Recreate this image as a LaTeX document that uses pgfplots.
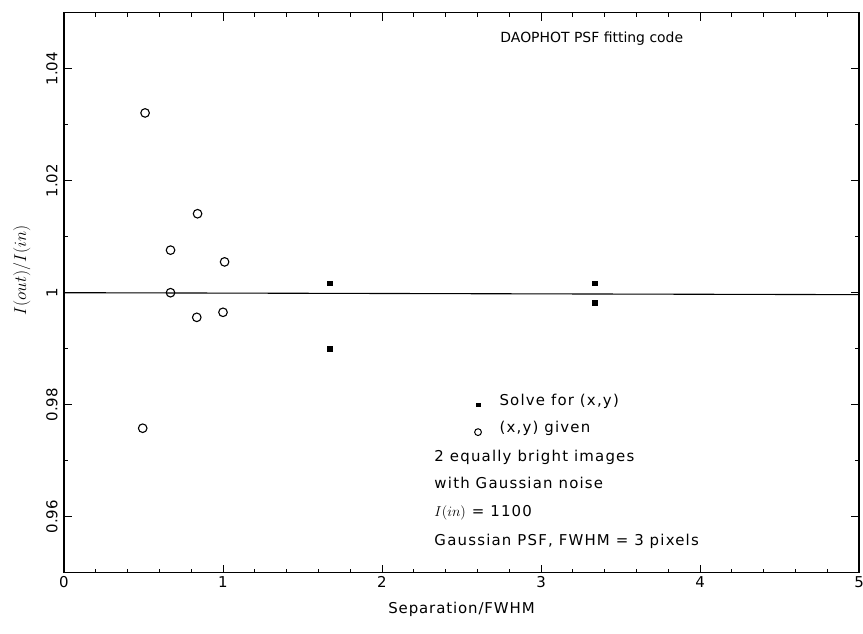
\documentclass[border=0pt]{standalone}
\usepackage{fontspec}
\setmainfont{DejaVu Sans}
\usepackage{pgfplots}
\pgfplotsset{compat=1.18}

\newcommand{\fs}{\fontsize{15}{17}\selectfont\addfontfeatures{LetterSpace=8}}
\newcommand{\fst}{\fontsize{14}{17}\selectfont}

\begin{document}
\begin{tikzpicture}
\begin{axis}[
    name=ax,
    scale only axis,
    width=795bp, height=560bp,
    xmin=0, xmax=5, ymin=0.95, ymax=1.05,
    xtick={0,1,2,3,4,5},
    minor x tick num=4,
    ytick={0.96,0.98,1,1.02,1.04},
    yticklabels={0.96,0.98,1,1.02,1.04},
    minor y tick num=1,
    tick align=inside,
    major tick length=8bp, minor tick length=4bp,
    every tick/.style={black, line width=0.9bp},
    axis line style={line width=1.1bp},
    /pgf/number format/assume math mode=true,
    ticklabel style={font=\fontsize{15}{17}\selectfont},
    yticklabel style={rotate=90, anchor=south},
    yticklabel shift=3bp,
    xlabel={Separation/FWHM},
    xlabel style={font=\fontsize{15}{17}\selectfont\addfontfeatures{LetterSpace=6}, yshift=-8bp},
    ylabel={$I(out)/I(in)$},
    ylabel style={font=\fontsize{17}{19}\selectfont, at={(axis description cs:-0.053,0.54)}, anchor=center},
    clip=false,
]
% reference line at I(out)/I(in) = 1
\addplot[black, line width=1.1bp] coordinates {(0,1.0) (5,0.99965)};

% (x,y) given
\addplot[only marks, mark=o, mark size=4.3bp, line width=1.1bp] coordinates {
    (0.51,1.0321) (0.495,0.9758)
    (0.67,1.0076) (0.67,1.0000)
    (0.84,1.0141) (0.835,0.9956)
    (1.01,1.0055) (1.00,0.9965)
};

% solve for (x,y)
\addplot[only marks, mark=square*, mark size=2.4bp] coordinates {
    (1.673,1.0017) (1.673,0.9900)
    (3.34,1.0017) (3.34,0.9982)
};

% key markers
\addplot[only marks, mark=square*, mark size=1.9bp, forget plot] coordinates {(2.604,0.9800)};
\addplot[only marks, mark=o, mark size=3.4bp, line width=1bp, forget plot] coordinates {(2.604,0.9751)};

\node[anchor=base west, font=\fst] at (axis cs:2.723,1.0446) {DAOPHOT PSF fitting code};
\node[anchor=base west, font=\fs] at (axis cs:2.717,0.97983) {Solve for (x,y)};
\node[anchor=base west, font=\fs] at (axis cs:2.717,0.97497) {(x,y) given};
\node[anchor=base west, font=\fs] at (axis cs:2.308,0.96986) {2 equally bright images};
\node[anchor=base west, font=\fs] at (axis cs:2.308,0.96500) {with Gaussian noise};
\node[anchor=base west, font=\fs] at (axis cs:2.308,0.96006) {\(I(in)\) = 1100};
\node[anchor=base west, font=\fs] at (axis cs:2.308,0.95490) {Gaussian PSF, FWHM = 3 pixels};
\end{axis}
\pgfresetboundingbox
\path ([shift={(-64bp,-61bp)}]ax.south west) rectangle ([shift={(4bp,12.7bp)}]ax.north east);
\end{tikzpicture}
\end{document}
